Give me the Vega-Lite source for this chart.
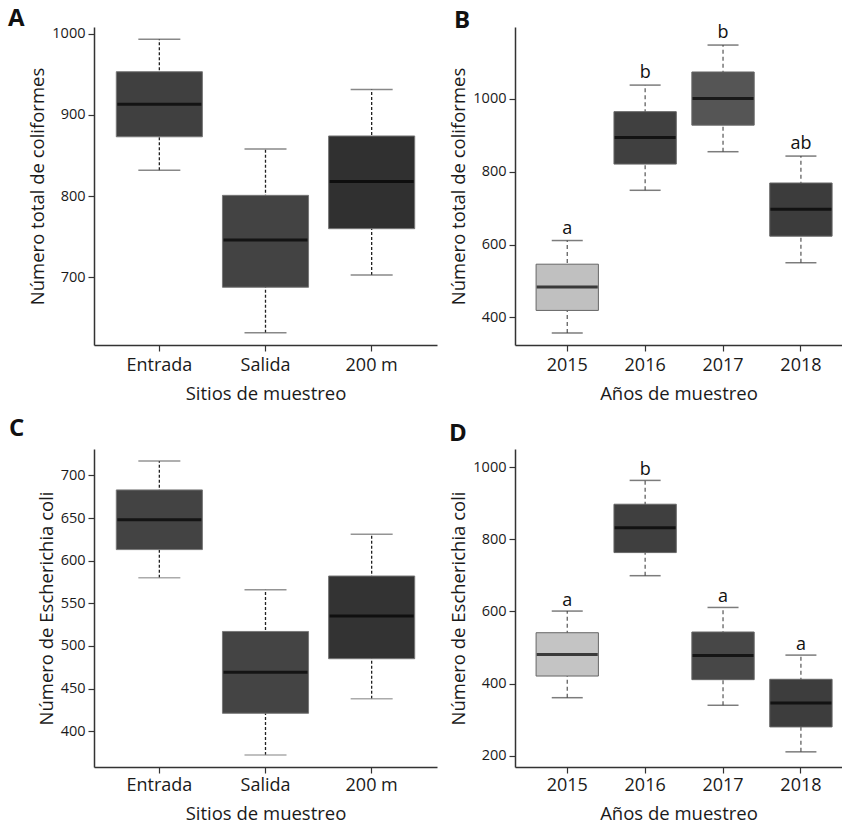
{
  "$schema": "https://vega.github.io/schema/vega-lite/v6.json",
  "padding": {"left": 8, "top": 6, "right": 0, "bottom": 0},
  "background": "white",
  "config": {
    "font": "Open Sans",
    "view": {"stroke": null},
    "axis": {
      "grid": false,
      "domainColor": "#333",
      "domainWidth": 1.5,
      "tickColor": "#333",
      "tickWidth": 1.2,
      "tickSize": 6,
      "labelColor": "#1a1a1a",
      "titleColor": "#1a1a1a",
      "labelFont": "Open Sans",
      "titleFont": "Open Sans",
      "titleFontWeight": "normal",
      "titleFontSize": 18.5,
      "labelFontSize": 14.5,
      "labelPadding": 3
    },
    "axisX": {"labelAngle": 0, "labelFontSize": 18, "titlePadding": 10},
    "axisY": {"titlePadding": 4, "format": "d"},
    "title": {"fontSize": 24, "fontWeight": "bold", "anchor": "start", "frame": "group", "baseline": "alphabetic", "color": "#111", "font": "Open Sans"}
  },
  "datasets": {
    "sitesColi": [
      {"site": "Entrada", "lower": 832, "q1": 873, "median": 913, "q3": 953, "upper": 993},
      {"site": "Salida", "lower": 632, "q1": 688, "median": 746, "q3": 801, "upper": 858},
      {"site": "200 m", "lower": 703, "q1": 760, "median": 818, "q3": 874, "upper": 931}
    ],
    "yearsColi": [
      {"year": "2015", "lower": 357, "q1": 419, "median": 483, "q3": 546, "upper": 611, "letter": "a"},
      {"year": "2016", "lower": 749, "q1": 821, "median": 894, "q3": 965, "upper": 1038, "letter": "b"},
      {"year": "2017", "lower": 855, "q1": 928, "median": 1001, "q3": 1074, "upper": 1148, "letter": "b"},
      {"year": "2018", "lower": 550, "q1": 623, "median": 697, "q3": 769, "upper": 843, "letter": "ab"}
    ],
    "sitesEcoli": [
      {"site": "Entrada", "lower": 580, "q1": 613, "median": 648, "q3": 683, "upper": 717},
      {"site": "Salida", "lower": 372, "q1": 421, "median": 469, "q3": 517, "upper": 566},
      {"site": "200 m", "lower": 438, "q1": 485, "median": 535, "q3": 582, "upper": 631}
    ],
    "yearsEcoli": [
      {"year": "2015", "lower": 361, "q1": 421, "median": 481, "q3": 541, "upper": 601, "letter": "a"},
      {"year": "2016", "lower": 699, "q1": 763, "median": 832, "q3": 897, "upper": 963, "letter": "b"},
      {"year": "2017", "lower": 340, "q1": 411, "median": 478, "q3": 543, "upper": 611, "letter": "a"},
      {"year": "2018", "lower": 211, "q1": 280, "median": 346, "q3": 412, "upper": 479, "letter": "a"}
    ]
  },
  "spacing": 14,
  "resolve": {"scale": {"color": "independent", "x": "independent", "y": "independent"}},
  "vconcat": [
    {
      "spacing": 12,
      "resolve": {"scale": {"color": "independent", "x": "independent", "y": "independent"}},
      "hconcat": [
        {
          "title": {"text": "A", "dx": -86, "offset": -5},
          "width": 343, "height": 318,
          "data": {"name": "sitesColi"},
          "encoding": {
            "x": {"field": "site", "type": "nominal", "sort": ["Entrada", "Salida", "200 m"], "scale": {"type": "band", "paddingInner": 0.189, "paddingOuter": 0.21}, "axis": {"title": "Sitios de muestreo", "labelPadding": 5}}
          },
          "layer": [
            {"mark": {"type": "rule", "color": "#222", "strokeDash": [3, 2], "strokeWidth": 1.3},
             "encoding": {"y": {"field": "lower", "type": "quantitative", "scale": {"domain": [617, 1008], "nice": false, "zero": false}, "axis": {"values": [700, 800, 900, 1000], "title": "Número total de coliformes"}}, "y2": {"field": "upper"}}},
            {"mark": {"type": "tick", "color": "#555", "thickness": 1.5, "size": 42}, "encoding": {"y": {"field": "upper", "type": "quantitative"}}},
            {"mark": {"type": "tick", "color": "#555", "thickness": 1.5, "size": 42}, "encoding": {"y": {"field": "lower", "type": "quantitative"}}},
            {"mark": {"type": "bar", "stroke": "#777", "strokeWidth": 1},
             "encoding": {"y": {"field": "q1", "type": "quantitative"}, "y2": {"field": "q3"},
               "color": {"field": "site", "type": "nominal", "scale": {"domain": ["Entrada", "Salida", "200 m"], "range": ["#404040", "#434343", "#303030"]}, "legend": null}}},
            {"mark": {"type": "tick", "color": "#000", "thickness": 3, "size": 84}, "encoding": {"y": {"field": "median", "type": "quantitative"}}}
          ]
        },
        {
          "title": {"text": "B", "dx": -61, "offset": -9},
          "width": 327, "height": 318,
          "data": {"name": "yearsColi"},
          "encoding": {
            "x": {"field": "year", "type": "nominal", "sort": ["2015", "2016", "2017", "2018"], "scale": {"type": "band", "paddingInner": 0.2, "paddingOuter": 0.199, "align": 0.68}, "axis": {"title": "Años de muestreo", "labelPadding": 5}}
          },
          "layer": [
            {"mark": {"type": "rule", "color": "#555", "strokeDash": [4, 3], "strokeWidth": 1.2},
             "encoding": {"y": {"field": "lower", "type": "quantitative", "scale": {"domain": [324, 1197.6], "nice": false, "zero": false}, "axis": {"values": [400, 600, 800, 1000], "title": "Número total de coliformes"}}, "y2": {"field": "upper"}}},
            {"mark": {"type": "tick", "color": "#444", "thickness": 1.5, "size": 31}, "encoding": {"y": {"field": "upper", "type": "quantitative"}}},
            {"mark": {"type": "tick", "color": "#444", "thickness": 1.5, "size": 31}, "encoding": {"y": {"field": "lower", "type": "quantitative"}}},
            {"mark": {"type": "bar", "stroke": "#666", "strokeWidth": 1},
             "encoding": {"y": {"field": "q1", "type": "quantitative"}, "y2": {"field": "q3"},
               "color": {"field": "year", "type": "nominal", "scale": {"domain": ["2015", "2016", "2017", "2018"], "range": ["#c0c0c0", "#404040", "#555555", "#3c3c3c"]}, "legend": null}}},
            {"mark": {"type": "tick", "color": "#000", "thickness": 3, "size": 61}, "encoding": {"y": {"field": "median", "type": "quantitative"}}},
            {"mark": {"type": "text", "fontSize": 18, "baseline": "alphabetic", "dy": -7, "color": "#111"}, "encoding": {"y": {"field": "upper", "type": "quantitative"}, "text": {"field": "letter"}}}
          ]
        }
      ]
    },
    {
      "spacing": 12,
      "resolve": {"scale": {"color": "independent", "x": "independent", "y": "independent"}},
      "hconcat": [
        {
          "title": {"text": "C", "dx": -85, "offset": 8},
          "width": 343, "height": 318,
          "data": {"name": "sitesEcoli"},
          "encoding": {
            "x": {"field": "site", "type": "nominal", "sort": ["Entrada", "Salida", "200 m"], "scale": {"type": "band", "paddingInner": 0.189, "paddingOuter": 0.21}, "axis": {"title": "Sitios de muestreo"}}
          },
          "layer": [
            {"mark": {"type": "rule", "color": "#222", "strokeDash": [3, 2], "strokeWidth": 1.3},
             "encoding": {"y": {"field": "lower", "type": "quantitative", "scale": {"domain": [358, 731], "nice": false, "zero": false}, "axis": {"values": [400, 450, 500, 550, 600, 650, 700], "title": "Número de Escherichia coli"}}, "y2": {"field": "upper"}}},
            {"mark": {"type": "tick", "color": "#666", "thickness": 1.5, "size": 42}, "encoding": {"y": {"field": "upper", "type": "quantitative"}}},
            {"mark": {"type": "tick", "color": "#888", "thickness": 1.5, "size": 42}, "encoding": {"y": {"field": "lower", "type": "quantitative"}}},
            {"mark": {"type": "bar", "stroke": "#777", "strokeWidth": 1},
             "encoding": {"y": {"field": "q1", "type": "quantitative"}, "y2": {"field": "q3"},
               "color": {"field": "site", "type": "nominal", "scale": {"domain": ["Entrada", "Salida", "200 m"], "range": ["#434343", "#444444", "#333333"]}, "legend": null}}},
            {"mark": {"type": "tick", "color": "#000", "thickness": 3, "size": 84}, "encoding": {"y": {"field": "median", "type": "quantitative"}}}
          ]
        },
        {
          "title": {"text": "D", "dx": -66, "offset": 3},
          "width": 327, "height": 318,
          "data": {"name": "yearsEcoli"},
          "encoding": {
            "x": {"field": "year", "type": "nominal", "sort": ["2015", "2016", "2017", "2018"], "scale": {"type": "band", "paddingInner": 0.2, "paddingOuter": 0.199, "align": 0.68}, "axis": {"title": "Años de muestreo"}}
          },
          "layer": [
            {"mark": {"type": "rule", "color": "#555", "strokeDash": [4, 3], "strokeWidth": 1.2},
             "encoding": {"y": {"field": "lower", "type": "quantitative", "scale": {"domain": [169, 1050], "nice": false, "zero": false}, "axis": {"values": [200, 400, 600, 800, 1000], "title": "Número de Escherichia coli"}}, "y2": {"field": "upper"}}},
            {"mark": {"type": "tick", "color": "#444", "thickness": 1.5, "size": 31}, "encoding": {"y": {"field": "upper", "type": "quantitative"}}},
            {"mark": {"type": "tick", "color": "#444", "thickness": 1.5, "size": 31}, "encoding": {"y": {"field": "lower", "type": "quantitative"}}},
            {"mark": {"type": "bar", "stroke": "#666", "strokeWidth": 1},
             "encoding": {"y": {"field": "q1", "type": "quantitative"}, "y2": {"field": "q3"},
               "color": {"field": "year", "type": "nominal", "scale": {"domain": ["2015", "2016", "2017", "2018"], "range": ["#c4c4c4", "#3f3f3f", "#474747", "#3d3d3d"]}, "legend": null}}},
            {"mark": {"type": "tick", "color": "#000", "thickness": 3, "size": 61}, "encoding": {"y": {"field": "median", "type": "quantitative"}}},
            {"mark": {"type": "text", "fontSize": 18, "baseline": "alphabetic", "dy": -5, "color": "#111"}, "encoding": {"y": {"field": "upper", "type": "quantitative"}, "text": {"field": "letter"}}}
          ]
        }
      ]
    }
  ]
}
